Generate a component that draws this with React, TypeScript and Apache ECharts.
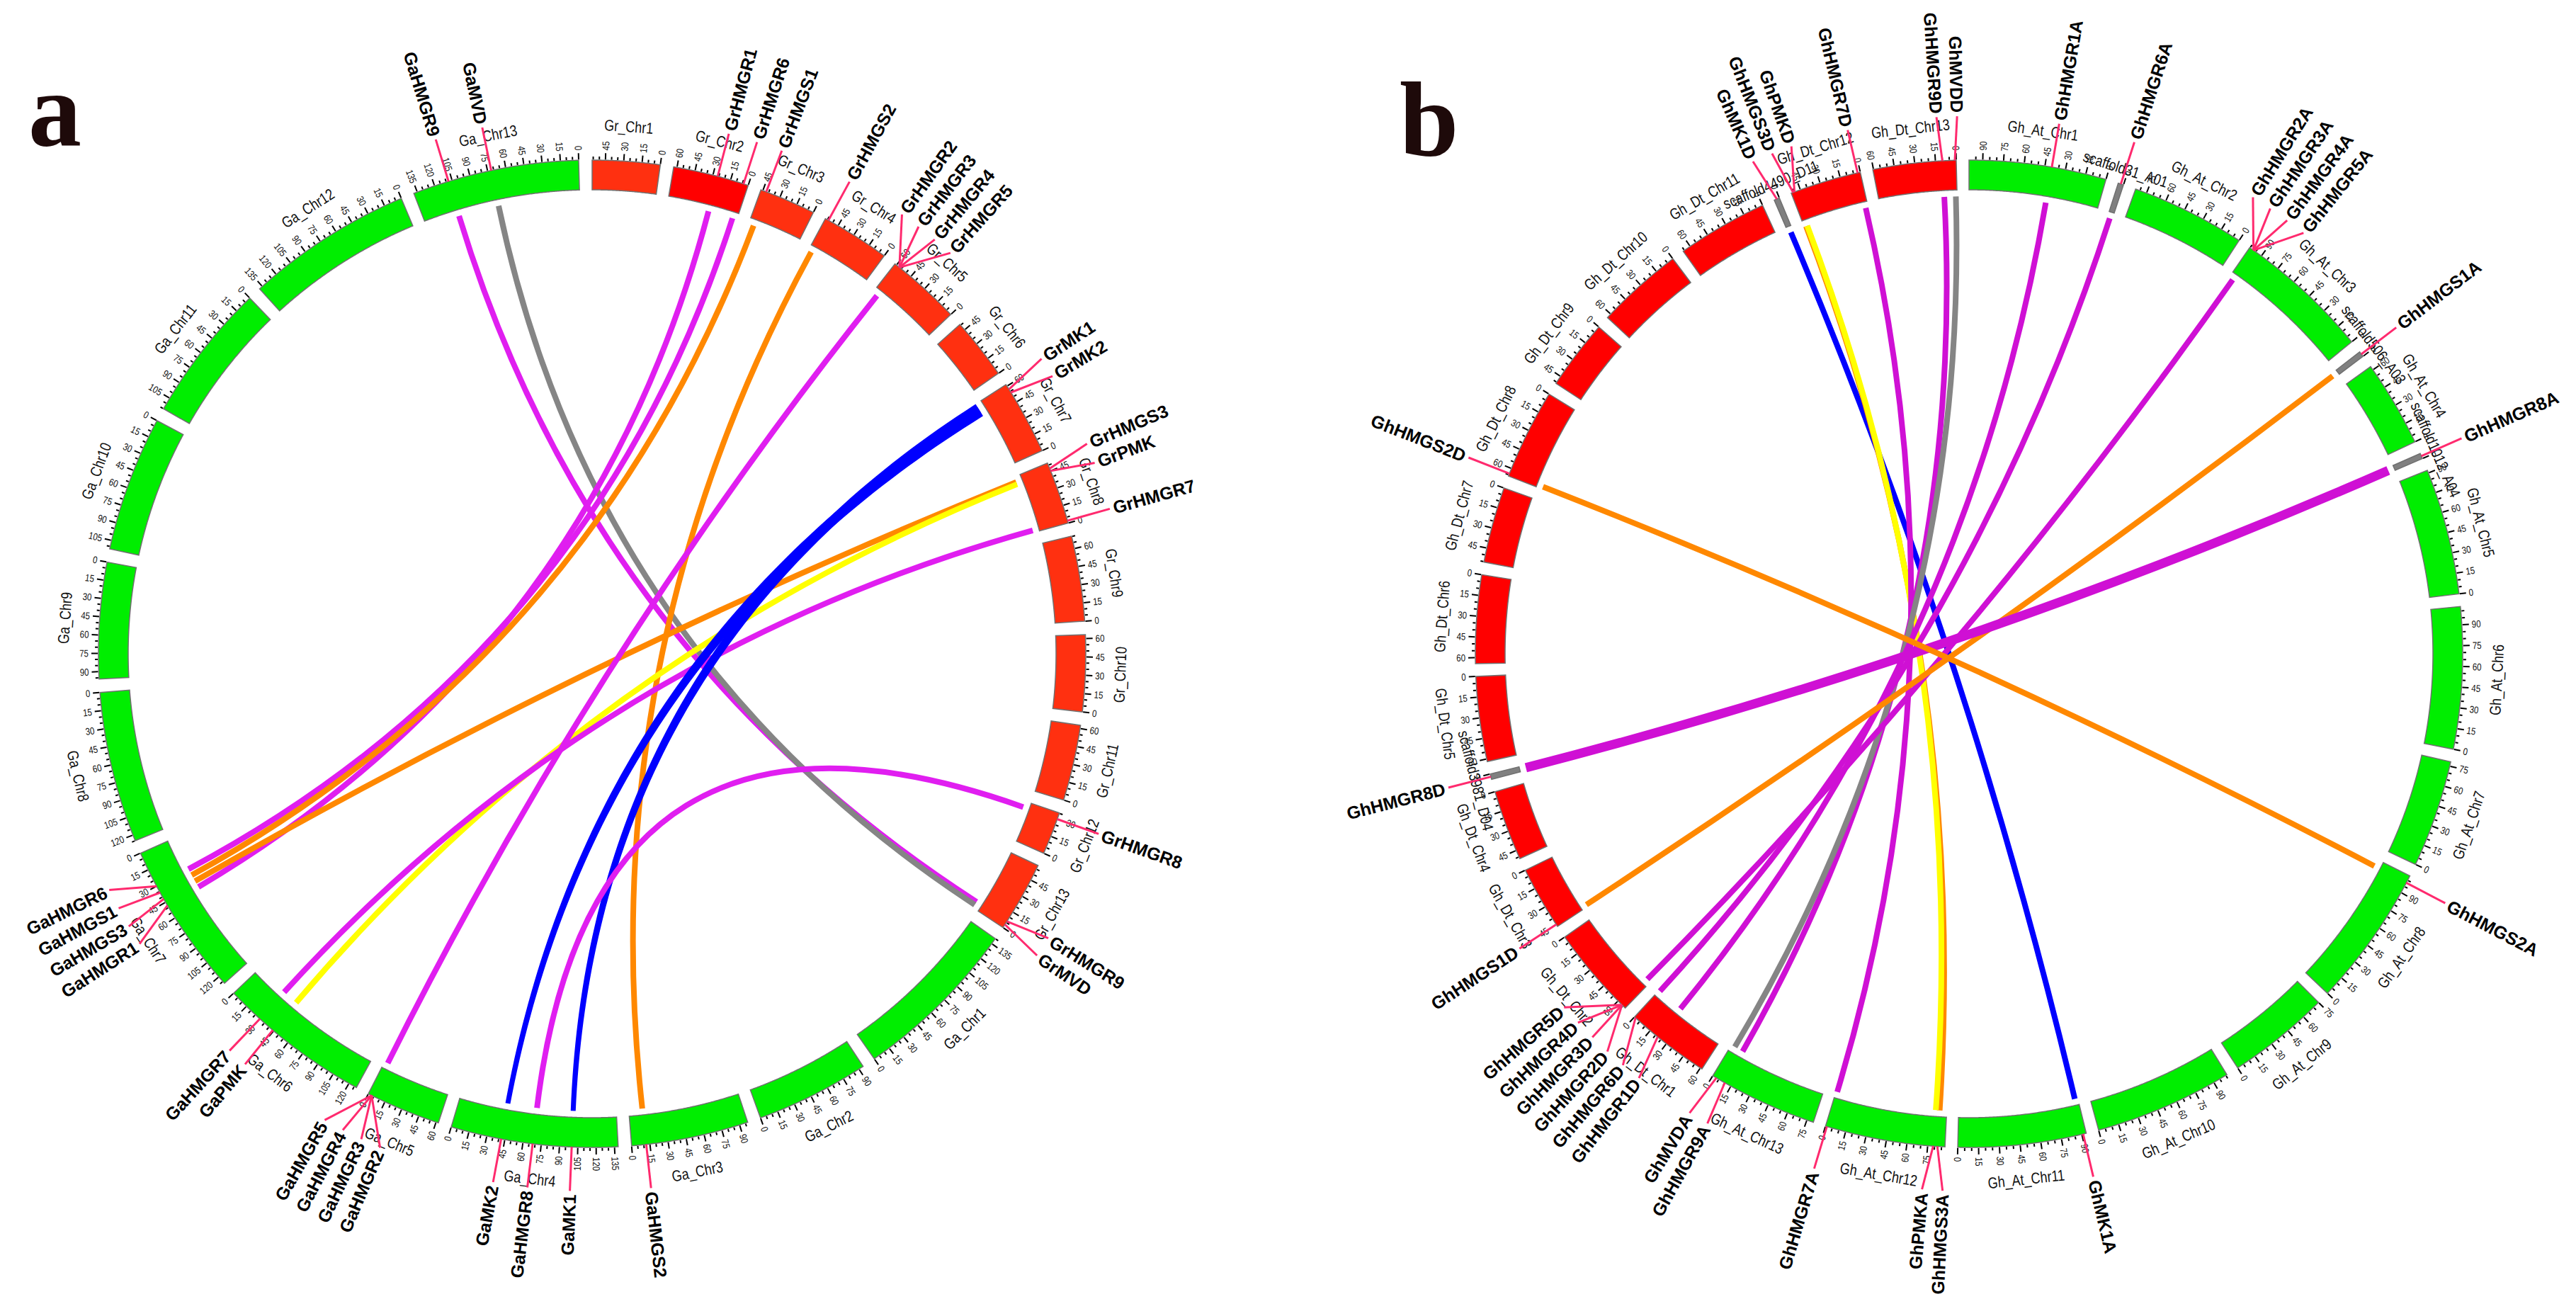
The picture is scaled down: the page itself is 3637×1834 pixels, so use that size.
import React, { useEffect, useRef } from "react";
import * as echarts from "echarts";

// ================= Panel a =================
// chromosomes listed counter-clockwise from 12 o'clock, lengths in Mb
const A_CHROMS = [
  "Ga_Chr13", "Ga_Chr12", "Ga_Chr11", "Ga_Chr10", "Ga_Chr9", "Ga_Chr8", "Ga_Chr7",
  "Ga_Chr6", "Ga_Chr5", "Ga_Chr4", "Ga_Chr3", "Ga_Chr2", "Ga_Chr1",
  "Gr_Chr13", "Gr_Chr12", "Gr_Chr11", "Gr_Chr10", "Gr_Chr9", "Gr_Chr8", "Gr_Chr7",
  "Gr_Chr6", "Gr_Chr5", "Gr_Chr4", "Gr_Chr3", "Gr_Chr2", "Gr_Chr1",
];
const A_LENGTHS = [
  138, 138, 115, 112, 96, 125, 127, 127, 62, 138, 97, 94, 140,
  58.3, 35.4, 62.7, 63.3, 70.4, 51.9, 61.6, 50.9, 61.6, 56.9, 46.7, 62.8, 55.9,
];
// [gene, chromosome, position (Mb)]
const A_GENES: [string, string, number][] = [
  ["GaMVD", "Ga_Chr13", 72],
  ["GaHMGR9", "Ga_Chr13", 108],
  ["GaHMGR6", "Ga_Chr7", 30],
  ["GaHMGS1", "Ga_Chr7", 36],
  ["GaHMGS3", "Ga_Chr7", 42],
  ["GaHMGR1", "Ga_Chr7", 48],
  ["GaHMGR7", "Ga_Chr6", 30],
  ["GaPMK", "Ga_Chr6", 44],
  ["GaHMGR5", "Ga_Chr5", 3],
  ["GaHMGR4", "Ga_Chr5", 3],
  ["GaHMGR3", "Ga_Chr5", 3],
  ["GaHMGR2", "Ga_Chr5", 3],
  ["GaMK2", "Ga_Chr4", 42],
  ["GaHMGR8", "Ga_Chr4", 68],
  ["GaMK1", "Ga_Chr4", 100],
  ["GaHMGS2", "Ga_Chr3", 12],
  ["GrMVD", "Gr_Chr13", 3],
  ["GrHMGR9", "Gr_Chr13", 6],
  ["GrHMGR8", "Gr_Chr12", 30],
  ["GrHMGR7", "Gr_Chr8", 2],
  ["GrPMK", "Gr_Chr8", 45],
  ["GrHMGS3", "Gr_Chr8", 47],
  ["GrMK2", "Gr_Chr7", 54],
  ["GrMK1", "Gr_Chr7", 57],
  ["GrHMGR5", "Gr_Chr5", 57],
  ["GrHMGR4", "Gr_Chr5", 57],
  ["GrHMGR3", "Gr_Chr5", 57],
  ["GrHMGR2", "Gr_Chr5", 57],
  ["GrHMGS2", "Gr_Chr4", 54],
  ["GrHMGS1", "Gr_Chr3", 42],
  ["GrHMGR6", "Gr_Chr2", 4],
  ["GrHMGR1", "Gr_Chr2", 26],
];
// [gene A, gene B, link kind]  m=HMGR, o=HMGS, y=PMK, g=MVD, b=MK
const A_LINKS: [string, string, string][] = [
  ["GaHMGR9", "GrHMGR9", "m"],
  ["GaMVD", "GrMVD", "g"],
  ["GaHMGR6", "GrHMGR6", "m"],
  ["GaHMGR1", "GrHMGR1", "m"],
  ["GaHMGS1", "GrHMGS1", "o"],
  ["GaHMGS3", "GrHMGS3", "o"],
  ["GaHMGS2", "GrHMGS2", "o"],
  ["GaPMK", "GrPMK", "y"],
  ["GaHMGR7", "GrHMGR7", "m"],
  ["GaHMGR2", "GrHMGR2", "m"],
  ["GaMK2", "GrMK2", "b"],
  ["GaMK1", "GrMK1", "b"],
  ["GaHMGR8", "GrHMGR8", "m"],
];

// ================= Panel b =================
const B_CHROMS = [
  "Gh_Dt_Chr13", "Gh_Dt_Chr12", "scaffold4490_D11", "Gh_Dt_Chr11", "Gh_Dt_Chr10", "Gh_Dt_Chr9",
  "Gh_Dt_Chr8", "Gh_Dt_Chr7", "Gh_Dt_Chr6", "Gh_Dt_Chr5", "scaffold3981_D04", "Gh_Dt_Chr4",
  "Gh_Dt_Chr3", "Gh_Dt_Chr2", "Gh_Dt_Chr1",
  "Gh_At_Chr13", "Gh_At_Chr12", "Gh_At_Chr11", "Gh_At_Chr10", "Gh_At_Chr9", "Gh_At_Chr8",
  "Gh_At_Chr7", "Gh_At_Chr6", "Gh_At_Chr5", "scaffold1012_A04", "Gh_At_Chr4", "scaffold506_A03",
  "Gh_At_Chr3", "Gh_At_Chr2", "scaffold31_A01", "Gh_At_Chr1",
];
const B_LENGTHS = [
  60.5, 52, 4, 66.1, 63.4, 51.0, 65.9, 55.3, 64.3, 61.9, 4, 51.4, 46.7, 67.3, 61.4,
  79.9, 87.5, 93.3, 100.9, 75.0, 103.6, 78.3, 103.2, 92.0, 4, 62.9, 4, 100.3, 83.4, 4, 99.9,
];
const B_GENES: [string, string, number][] = [
  ["GhMVDD", "Gh_Dt_Chr13", 1],
  ["GhHMGR9D", "Gh_Dt_Chr13", 10],
  ["GhHMGR7D", "Gh_Dt_Chr12", 2],
  ["GhPMKD", "Gh_Dt_Chr12", 49.5],
  ["GhHMGS3D", "Gh_Dt_Chr12", 50.5],
  ["GhMK1D", "scaffold4490_D11", 2],
  ["GhHMGS2D", "Gh_Dt_Chr8", 64],
  ["GhHMGR8D", "scaffold3981_D04", 2],
  ["GhHMGS1D", "Gh_Dt_Chr3", 45],
  ["GhHMGR5D", "Gh_Dt_Chr2", 64],
  ["GhHMGR4D", "Gh_Dt_Chr2", 64],
  ["GhHMGR3D", "Gh_Dt_Chr2", 64],
  ["GhHMGR2D", "Gh_Dt_Chr2", 64],
  ["GhHMGR6D", "Gh_Dt_Chr1", 1],
  ["GhHMGR1D", "Gh_Dt_Chr1", 22],
  ["GhMVDA", "Gh_At_Chr13", 3],
  ["GhHMGR9A", "Gh_At_Chr13", 10],
  ["GhHMGR7A", "Gh_At_Chr12", 1],
  ["GhPMKA", "Gh_At_Chr12", 79],
  ["GhHMGS3A", "Gh_At_Chr12", 82],
  ["GhMK1A", "Gh_At_Chr11", 91],
  ["GhHMGS2A", "Gh_At_Chr8", 98],
  ["GhHMGR8A", "scaffold1012_A04", 2],
  ["GhHMGS1A", "scaffold506_A03", 2],
  ["GhHMGR5A", "Gh_At_Chr3", 97],
  ["GhHMGR4A", "Gh_At_Chr3", 97],
  ["GhHMGR3A", "Gh_At_Chr3", 97],
  ["GhHMGR2A", "Gh_At_Chr3", 97],
  ["GhHMGR6A", "scaffold31_A01", 2],
  ["GhHMGR1A", "Gh_At_Chr1", 40],
];
const B_LINKS: [string, string, string][] = [
  ["GhMK1D", "GhMK1A", "b"],
  ["GhHMGS3D", "GhHMGS3A", "o"],
  ["GhPMKD", "GhPMKA", "y"],
  ["GhHMGR7D", "GhHMGR7A", "m"],
  ["GhHMGR9D", "GhHMGR9A", "m"],
  ["GhMVDD", "GhMVDA", "g"],
  ["GhHMGR1A", "GhHMGR1D", "m"],
  ["GhHMGR6A", "GhHMGR6D", "m"],
  ["GhHMGR2A", "GhHMGR2D", "m"],
  ["GhHMGS1A", "GhHMGS1D", "o"],
  ["GhHMGR8A", "GhHMGR8D", "m"],
  ["GhHMGS2A", "GhHMGS2D", "o"],
];

// ================= styling / layout constants =================
const W = 3637;
const H = 1834;
const R_OUT = 697;
const R_IN = 655;
const R_LINK = 646;
const R_TICK_LABEL = R_OUT + 14;
const R_NAME = R_OUT + 49;
const R_NAME_SCAF = R_OUT + 22;
const R_GENE_LINE = R_OUT + 62;
const R_GENE_LABEL = R_OUT + 67;
const LABEL_SEP_DEG = 2.2;

const SANS = '"Liberation Sans", Arial, Helvetica, sans-serif';
const LINK_COLORS: Record<string, string> = { o: "#ff8800", y: "#ffff00", g: "#858585", b: "#0000ff" };
// tapered / thick links: [width at gene A end, width at gene B end]
const LINK_WIDTHS: Record<string, [number, number]> = {
  GaMK1: [7, 15],
  GaMK2: [7, 15],
  GhHMGR8A: [13, 13],
};

const PANELS = [
  {
    letter: "a", letterPos: [40, 154], center: [836, 923], gap: 11, magenta: "#e01ef0",
    chroms: A_CHROMS, lengths: A_LENGTHS, genes: A_GENES, links: A_LINKS,
  },
  {
    letter: "b", letterPos: [1976, 169], center: [2780, 923], gap: 9.2, magenta: "#cf10d4",
    chroms: B_CHROMS, lengths: B_LENGTHS, genes: B_GENES, links: B_LINKS,
  },
];

function chromColor(name: string): string {
  if (name.startsWith("scaffold")) return "#808080";
  if (name.startsWith("Ga_") || name.startsWith("Gh_At")) return "#00ee00";
  if (name === "Gr_Chr2" || name.startsWith("Gh_Dt")) return "#ff0000";
  return "#ff3010";
}

function layoutKaryotype(lengths: number[], gap: number) {
  let off = 0;
  const starts: number[] = [];
  lengths.forEach((len) => {
    off += gap;
    starts.push(off);
    off += len;
  });
  return { starts, total: off };
}

function spread(vals: number[], minSep: number): number[] {
  const idx = vals.map((_, i) => i).sort((a, b) => vals[a] - vals[b] || a - b);
  let groups = idx.map((i) => ({ items: [i], center: vals[i] }));
  let changed = true;
  while (changed) {
    changed = false;
    for (let g = 0; g < groups.length - 1; g++) {
      const A = groups[g];
      const B = groups[g + 1];
      const aEnd = A.center + ((A.items.length - 1) / 2) * minSep;
      const bStart = B.center - ((B.items.length - 1) / 2) * minSep;
      if (bStart - aEnd < minSep - 1e-9) {
        const items = A.items.concat(B.items);
        const center = items.reduce((s, i) => s + vals[i], 0) / items.length;
        groups.splice(g, 2, { items, center });
        changed = true;
        break;
      }
    }
  }
  const out: number[] = new Array(vals.length);
  groups.forEach((G) =>
    G.items.forEach((i, k) => {
      out[i] = G.center + (k - (G.items.length - 1) / 2) * minSep;
    })
  );
  return out;
}

type Font = { size: number; weight?: string; scaleX?: number; fill?: string };
const TICK_FONT: Font = { size: 14, scaleX: 0.82, fill: "#111" };
const NAME_FONT: Font = { size: 22, scaleX: 0.82, fill: "#111" };
const GENE_FONT: Font = { size: 25, weight: "bold", fill: "#000" };

function angleAt(api: any, r: number, v: number) {
  const p = api.coord([r, v]);
  const c = api.coord([0, v]);
  return { p, th: Math.atan2(p[1] - c[1], p[0] - c[0]) };
}

function radialText(api: any, r: number, v: number, text: string, f: Font) {
  const { p, th } = angleAt(api, r, v);
  const left = Math.cos(th) < -1e-6;
  return {
    type: "text",
    x: p[0],
    y: p[1],
    rotation: left ? -th + Math.PI : -th,
    scaleX: f.scaleX || 1,
    style: {
      text,
      fontSize: f.size,
      fontFamily: SANS,
      fontWeight: f.weight || "normal",
      fill: f.fill,
      align: left ? "right" : "left",
      verticalAlign: "middle",
    },
  };
}

function tangentText(api: any, r: number, v: number, text: string, f: Font) {
  const { p, th } = angleAt(api, r, v);
  const bottom = Math.sin(th) > 1e-6;
  const rot = -(th + Math.PI / 2) + (bottom ? Math.PI : 0);
  return {
    type: "text",
    x: p[0],
    y: p[1],
    rotation: rot,
    scaleX: f.scaleX || 1,
    style: {
      text,
      fontSize: f.size,
      fontFamily: SANS,
      fontWeight: f.weight || "normal",
      fill: f.fill,
      align: "center",
      verticalAlign: "middle",
    },
  };
}

function buildOption() {
  const polar: any[] = [];
  const angleAxis: any[] = [];
  const radiusAxis: any[] = [];
  const series: any[] = [];
  const graphic: any[] = [];

  PANELS.forEach((pn, pi) => {
    const { starts, total } = layoutKaryotype(pn.lengths, pn.gap);
    polar.push({ center: pn.center, radius: [0, 1000] });
    angleAxis.push({
      polarIndex: pi, type: "value", min: 0, max: total, startAngle: 90, clockwise: false, show: false,
    });
    radiusAxis.push({ polarIndex: pi, type: "value", min: 0, max: 1000, show: false });

    const chrIndex: Record<string, number> = {};
    pn.chroms.forEach((c, i) => (chrIndex[c] = i));
    const geneVal = pn.genes.map((g) => starts[chrIndex[g[1]]] + g[2]);
    const labelVal = spread(geneVal, (LABEL_SEP_DEG / 360) * total);
    const geneMap: Record<string, number> = {};
    pn.genes.forEach((g, i) => (geneMap[g[0]] = geneVal[i]));

    // ---- links ----
    series.push({
      type: "custom",
      coordinateSystem: "polar",
      polarIndex: pi,
      silent: true,
      z: 1,
      data: pn.links.map((l) => [R_LINK, geneMap[l[0]]]),
      renderItem: (params: any, api: any) => {
        const l = pn.links[params.dataIndex];
        const p0 = api.coord([R_LINK, geneMap[l[0]]]);
        const p2 = api.coord([R_LINK, geneMap[l[1]]]);
        const c = api.coord([0, 0]);
        const color = l[2] === "m" ? pn.magenta : LINK_COLORS[l[2]];
        const wd = LINK_WIDTHS[l[0]];
        if (wd && wd[0] !== wd[1]) {
          const left: number[][] = [];
          const right: number[][] = [];
          const N = 80;
          for (let k = 0; k <= N; k++) {
            const t = k / N;
            const x = (1 - t) * (1 - t) * p0[0] + 2 * t * (1 - t) * c[0] + t * t * p2[0];
            const y = (1 - t) * (1 - t) * p0[1] + 2 * t * (1 - t) * c[1] + t * t * p2[1];
            const dx = 2 * (1 - t) * (c[0] - p0[0]) + 2 * t * (p2[0] - c[0]);
            const dy = 2 * (1 - t) * (c[1] - p0[1]) + 2 * t * (p2[1] - c[1]);
            const len = Math.hypot(dx, dy) || 1;
            const nx = -dy / len;
            const ny = dx / len;
            const w = (wd[0] + (wd[1] - wd[0]) * t) / 2;
            left.push([x + nx * w, y + ny * w]);
            right.push([x - nx * w, y - ny * w]);
          }
          return {
            type: "polygon",
            shape: { points: left.concat(right.reverse()) },
            style: { fill: color, stroke: null },
          };
        }
        return {
          type: "bezierCurve",
          shape: { x1: p0[0], y1: p0[1], x2: p2[0], y2: p2[1], cpx1: c[0], cpy1: c[1] },
          style: { stroke: color, lineWidth: wd ? wd[0] : 8, fill: null },
        };
      },
    });

    // ---- chromosome ideograms ----
    series.push({
      type: "custom",
      coordinateSystem: "polar",
      polarIndex: pi,
      silent: true,
      z: 2,
      data: pn.chroms.map((_, i) => [R_OUT, starts[i]]),
      renderItem: (params: any, api: any) => {
        const i = params.dataIndex;
        const s = starts[i];
        const e = s + pn.lengths[i];
        const N = Math.max(4, Math.ceil(pn.lengths[i]));
        const pts: number[][] = [];
        for (let k = 0; k <= N; k++) pts.push(api.coord([R_OUT, s + ((e - s) * k) / N]));
        for (let k = N; k >= 0; k--) pts.push(api.coord([R_IN, s + ((e - s) * k) / N]));
        return {
          type: "polygon",
          shape: { points: pts },
          style: { fill: chromColor(pn.chroms[i]), stroke: "#707070", lineWidth: 1.5 },
        };
      },
    });

    // ---- ticks, tick labels and chromosome names ----
    series.push({
      type: "custom",
      coordinateSystem: "polar",
      polarIndex: pi,
      silent: true,
      z: 3,
      data: pn.chroms.map((_, i) => [R_OUT, starts[i]]),
      renderItem: (params: any, api: any) => {
        const i = params.dataIndex;
        const s = starts[i];
        const L = pn.lengths[i];
        const name = pn.chroms[i];
        const children: any[] = [];
        for (let v = 0; v <= L + 1e-9; v += 5) {
          const major = v % 15 === 0;
          const a = api.coord([R_OUT + 1, s + v]);
          const b = api.coord([R_OUT + (major ? 10 : 5), s + v]);
          children.push({
            type: "line",
            shape: { x1: a[0], y1: a[1], x2: b[0], y2: b[1] },
            style: { stroke: "#000", lineWidth: 2 },
          });
          if (major) children.push(radialText(api, R_TICK_LABEL, s + v, String(v), TICK_FONT));
        }
        const scaf = name.startsWith("scaffold");
        children.push(tangentText(api, scaf ? R_NAME_SCAF : R_NAME, s + L / 2, name, NAME_FONT));
        return { type: "group", children };
      },
    });

    // ---- gene labels ----
    series.push({
      type: "custom",
      coordinateSystem: "polar",
      polarIndex: pi,
      silent: true,
      z: 4,
      data: pn.genes.map((_, i) => [R_OUT, geneVal[i]]),
      renderItem: (params: any, api: any) => {
        const i = params.dataIndex;
        const a = api.coord([R_OUT, geneVal[i]]);
        const b = api.coord([R_GENE_LINE, labelVal[i]]);
        return {
          type: "group",
          children: [
            {
              type: "line",
              shape: { x1: a[0], y1: a[1], x2: b[0], y2: b[1] },
              style: { stroke: "#ff2a6e", lineWidth: 3 },
            },
            radialText(api, R_GENE_LABEL, labelVal[i], pn.genes[i][0], GENE_FONT),
          ],
        };
      },
    });

    graphic.push({
      type: "text",
      x: pn.letterPos[0],
      y: pn.letterPos[1],
      silent: true,
      style: {
        text: pn.letter,
        fontSize: 150,
        fontWeight: "bold",
        fontFamily: '"Liberation Serif", "DejaVu Serif", serif',
        fill: "#1e0a0a",
        verticalAlign: "middle",
      },
    });
  });

  return {
    animation: false,
    backgroundColor: "#ffffff",
    polar,
    angleAxis,
    radiusAxis,
    series,
    graphic,
  };
}

export default function App() {
  const ref = useRef<HTMLDivElement>(null);
  useEffect(() => {
    if (!ref.current) return;
    const chart = echarts.init(ref.current, null, { renderer: "svg" });
    chart.setOption(buildOption() as any);
    return () => chart.dispose();
  }, []);
  return (
    <div
      ref={ref}
      style={{ position: "fixed", left: 0, top: 0, width: W + "px", height: H + "px", background: "#fff" }}
    />
  );
}
